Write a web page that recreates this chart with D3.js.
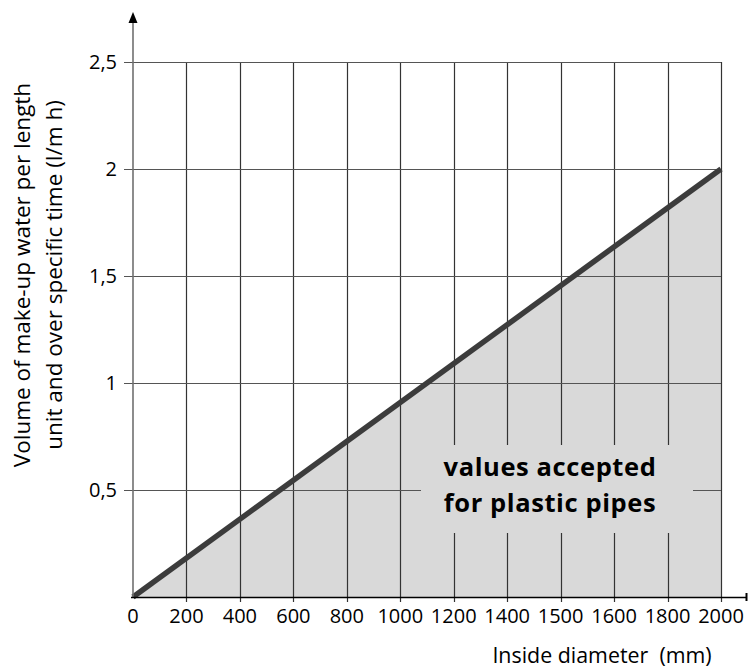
<!DOCTYPE html>
<html><head><meta charset="utf-8">
<script src="https://cdn.jsdelivr.net/npm/d3@7"></script>
<style>
html,body{margin:0;padding:0;background:#fff;}
svg{display:block;}
text{font-family:"Open Sans","Noto Sans",sans-serif;fill:#000;}
</style></head>
<body>
<svg id="chart" width="748" height="671"></svg>
<script>
// ---- data ----
const xTickLabels = ["0","200","400","600","800","1000","1200","1400","1500","1600","1800","2000"];
const yTicks = [0.5, 1, 1.5, 2, 2.5];
const yTickLabels = ["0,5","1","1,5","2","2,5"];
const lineX = ["0","2000"];
const lineY = [0, 2];
const xTitle = "Inside diameter  (mm)";
const yTitle = ["Volume of make-up water per length", "unit and over specific time (l/m h)"];
const areaLabel = ["values accepted", "for plastic pipes"];

// ---- scales ----
const svg = d3.select("#chart");
const x = d3.scalePoint().domain(xTickLabels).range([133, 721]);
const y = d3.scaleLinear().domain([0, 2.5]).range([597, 62]);

const pts = lineX.map((k, i) => ({x: k, y: lineY[i]}));

// shaded area under the line
const area = d3.area().x(d => x(d.x)).y0(y(0)).y1(d => y(d.y));
svg.append("path").datum(pts).attr("d", area).attr("fill", "#d9d9d9");

// vertical grid lines (with small ticks below axis)
svg.append("g").selectAll("line").data(xTickLabels.slice(1)).join("line")
  .attr("x1", d => Math.round(x(d)) + 0.5).attr("x2", d => Math.round(x(d)) + 0.5)
  .attr("y1", y(2.5)).attr("y2", y(0) + 5)
  .attr("stroke", "#333").attr("stroke-width", 1.2);

// horizontal grid lines
svg.append("g").selectAll("line").data(yTicks).join("line")
  .attr("x1", 124).attr("x2", x("2000"))
  .attr("y1", d => Math.round(y(d)) + 0.5).attr("y2", d => Math.round(y(d)) + 0.5)
  .attr("stroke", "#555").attr("stroke-width", 1.2);

// label background inside area
svg.append("rect").attr("x", 421).attr("y", 445).attr("width", 272).attr("height", 88).attr("fill", "#d9d9d9");

// the line
svg.append("path").datum(pts)
  .attr("d", d3.line().x(d => x(d.x)).y(d => y(d.y)))
  .attr("stroke", "#3c3c3c").attr("stroke-width", 5.5).attr("fill", "none");

// y axis with arrow
svg.append("line").attr("x1", 133).attr("x2", 133).attr("y1", 22).attr("y2", y(0))
  .attr("stroke", "#707070").attr("stroke-width", 1.6);
svg.append("path").attr("d", "M133,12 L128.5,23 L137.5,23 Z").attr("fill", "#000");

// x axis
svg.append("line").attr("x1", 131).attr("x2", 747).attr("y1", y(0) + 0.5).attr("y2", y(0) + 0.5)
  .attr("stroke", "#000").attr("stroke-width", 1.5);
svg.append("line").attr("x1", 746.5).attr("x2", 746.5).attr("y1", y(0) - 4).attr("y2", y(0) + 4)
  .attr("stroke", "#000").attr("stroke-width", 2);

// x tick labels
svg.append("g").selectAll("text").data(xTickLabels).join("text")
  .attr("x", d => x(d)).attr("y", 623)
  .attr("text-anchor", "middle").attr("font-size", 20).text(d => d);

// y tick labels
svg.append("g").selectAll("text").data(yTicks).join("text")
  .attr("x", 117).attr("y", d => y(d)).attr("dy", "0.36em")
  .attr("text-anchor", "end").attr("font-size", 20).text((d, i) => yTickLabels[i]);

// x title
svg.append("text").attr("x", 602).attr("y", 663).attr("text-anchor", "middle")
  .attr("font-size", 21.4).style("white-space", "pre").text(xTitle);

// y title
const yBase = [30, 62];
yTitle.forEach((t, i) => {
  svg.append("text").attr("transform", `translate(${yBase[i]},275) rotate(-90)`)
    .attr("text-anchor", "middle").attr("font-size", 22.5).text(t);
});

// area label
const lblBase = [476, 512];
areaLabel.forEach((t, i) => {
  svg.append("text").attr("x", 550).attr("y", lblBase[i]).attr("text-anchor", "middle")
    .attr("font-size", 25.5).attr("font-weight", "bold").attr("letter-spacing", 0.6).text(t);
});
</script>
</body></html>
